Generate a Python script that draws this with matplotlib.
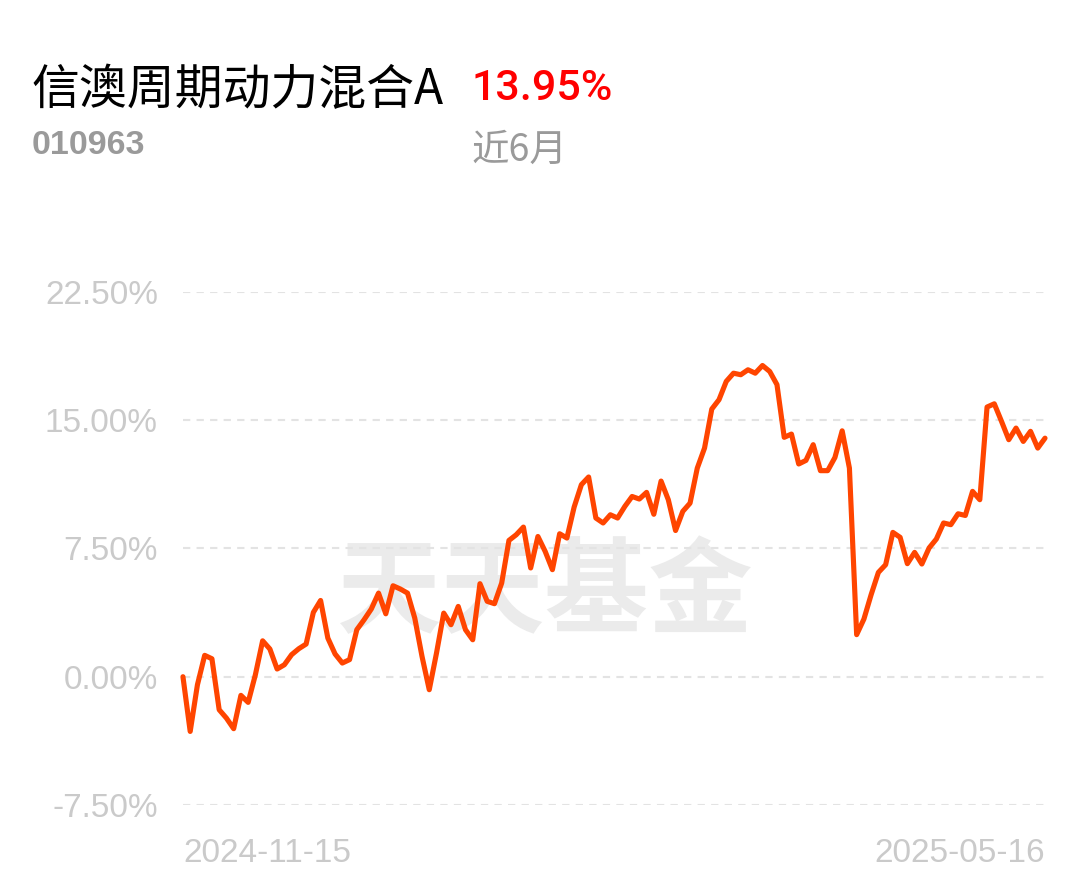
import matplotlib
matplotlib.use("Agg")
import matplotlib.pyplot as plt

# fund info
fund_name = "信澳周期动力混合A"
fund_code = "010963"
period_label = "近6月"
period_return = "13.95%"

# cumulative return (%) per trading day, 2024-11-15 .. 2025-05-16
returns = [
    0.0, -3.2, -0.47, 1.25, 1.05, -1.93, -2.42, -3.04, -1.09, -1.5,
    0.12, 2.1, 1.62, 0.45, 0.7, 1.29, 1.64, 1.91, 3.76, 4.46,
    2.26, 1.33, 0.8, 1.0, 2.75, 3.33, 3.96, 4.89, 3.68, 5.32,
    5.13, 4.89, 3.43, 1.19, -0.76, 1.38, 3.72, 3.04, 4.11, 2.75,
    2.16, 5.44, 4.41, 4.27, 5.48, 7.97, 8.3, 8.75, 6.36, 8.2,
    7.33, 6.26, 8.36, 8.11, 9.92, 11.23, 11.68, 9.28, 8.99, 9.47,
    9.28, 9.96, 10.54, 10.39, 10.78, 9.5, 11.44, 10.35, 8.55, 9.67,
    10.15, 12.2, 13.37, 15.65, 16.2, 17.27, 17.75, 17.66, 17.95, 17.75,
    18.2, 17.85, 17.08, 14.0, 14.19, 12.44, 12.65, 13.57, 12.05, 12.05,
    12.82, 14.38, 12.2, 2.46, 3.37, 4.8, 6.1, 6.55, 8.44, 8.15,
    6.61, 7.27, 6.59, 7.53, 8.05, 8.99, 8.89, 9.53, 9.43, 10.84,
    10.35, 15.77, 15.96, 14.93, 13.86, 14.54, 13.76, 14.35, 13.37, 13.95,
]
date_labels = ["2024-11-15", "2025-05-16"]
y_ticks = [-7.5, 0.0, 7.5, 15.0, 22.5]

cjk = ["Noto Sans CJK SC", "DejaVu Sans"]
latin = ["Liberation Sans", "DejaVu Sans"]

fig = plt.figure(figsize=(10.89, 8.81), dpi=100)
ax = fig.add_axes([0.168, 0.0863, 0.7916, 0.5823])

x = list(range(len(returns)))
ax.plot(x, returns, color="#ff4500", linewidth=3.7, solid_joinstyle="round",
        solid_capstyle="round", zorder=3, clip_on=False)

ax.set_xlim(0, len(returns) - 1)
ax.set_ylim(-7.5, 22.5)
ax.set_yticks(y_ticks)
ax.set_yticklabels(["%.2f%%" % v for v in y_ticks], family=latin,
                   fontsize=24, color="#cacaca")
ax.set_xticks([0, len(returns) - 1])
xl = ax.set_xticklabels(date_labels, family=latin, fontsize=24, color="#cacaca")
xl[0].set_ha("left")
xl[1].set_ha("right")
ax.tick_params(axis="y", length=0, pad=18)
ax.tick_params(axis="x", length=0, pad=24)
for s in ax.spines.values():
    s.set_visible(False)
for v in y_ticks:
    ax.axhline(v, color="#e3e3e3", linewidth=1.5, dashes=(3.5, 3), zorder=1)

# watermark
ax.text(0.42, 0.41, "天天基金", transform=ax.transAxes, ha="center", va="center",
        fontsize=75, fontweight="bold", color="#ebebeb", family=cjk, zorder=0)

fig.text(0.029, 0.897, fund_name, family=cjk, fontsize=34.5, color="black",
         ha="left", va="center")
fig.text(0.433, 0.899, period_return, family=["Roboto", "DejaVu Sans"],
         fontsize=31, fontweight="medium", color="#ff0000", ha="left", va="center")
fig.text(0.029, 0.835, fund_code, family=latin, fontsize=24.5, fontweight="bold",
         color="#9a9a9a", ha="left", va="center")
fig.text(0.433, 0.829, period_label, family=cjk, fontsize=27, color="#9a9a9a",
         ha="left", va="center")

fig.savefig("out.png", dpi=100)
